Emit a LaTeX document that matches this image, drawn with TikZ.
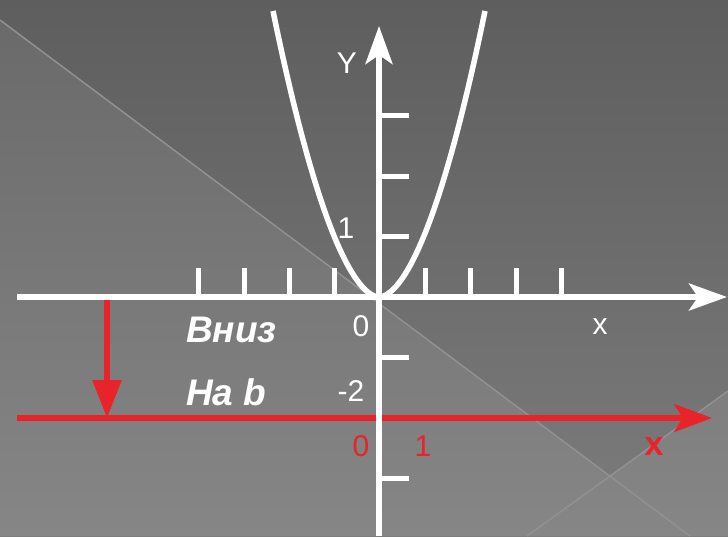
\documentclass[tikz,border=0pt]{standalone}
\usepackage{fontspec}
\setmainfont{Liberation Sans}
\usetikzlibrary{arrows.meta}
\definecolor{redc}{RGB}{232,35,42}
\definecolor{bgdt}{RGB}{94,94,94}
\definecolor{bgdb}{RGB}{124,124,124}
\definecolor{bglt}{RGB}{105,105,105}
\definecolor{bglb}{RGB}{134,134,134}
\definecolor{bgline}{RGB}{145,145,145}
\begin{document}
\begin{tikzpicture}[x=1pt,y=-1pt,
  axis/.style={draw=white,line width=5.5pt},
  tick/.style={draw=white,line width=5pt},
  redline/.style={draw=redc,line width=5.5pt},
  wlab/.style={text=white,inner sep=0pt,font=\fontsize{30}{32}\selectfont},
  rlab/.style={text=redc,inner sep=0pt,font=\fontsize{30}{32}\selectfont},
  blab/.style={text=white,inner sep=0pt,anchor=west,font=\fontsize{37}{40}\selectfont\bfseries\itshape},
  wtip/.style={-{Stealth[length=38pt,width=27pt,inset=9pt]}},
]
\useasboundingbox (0,0) rectangle (728,536);
% background
\shade[top color=bgdt,bottom color=bgdb] (0,0) rectangle (728,536);
\begin{scope}
  \clip (0,20) -- (690,536) -- (0,536) -- cycle;
  \shade[top color=bglt,bottom color=bglb] (0,0) rectangle (728,536);
\end{scope}
\begin{scope}
  \clip (527,536) -- (728,391) -- (728,536) -- cycle;
  \shade[top color=bglt,bottom color=bglb] (0,0) rectangle (728,536);
\end{scope}
\coordinate (g1a) at (0,20);
\coordinate (g1b) at (690,536);
\coordinate (g2a) at (527,536);
\coordinate (g2b) at (728,391);
\draw[bgline,line width=1.5pt] (g1a) -- (g1b);
\draw[bgline,line width=1.5pt] (g2a) -- (g2b);
% ticks
\foreach \t in {198,244,289,334,425,470,516,561}
  \draw[tick] (\t,297) -- (\t,268);
\foreach \t in {115.5,176,236.5,357.5,418,478.5}
  \draw[tick] (379,\t) -- (409,\t);
% red x axis
\coordinate (rs) at (17,418);
\coordinate (re) at (712,418);
\draw[redline,-{Stealth[length=38pt,width=28pt,inset=9pt]}] (rs) -- (re);
% white axes
\coordinate (xs) at (17,297);
\coordinate (xe) at (727,297);
\coordinate (ys) at (379,536);
\coordinate (ye) at (379,26);
\draw[axis,wtip] (xs) -- (xe);
\draw[axis,wtip] (ys) -- (ye);
% parabola
\draw[draw=white,line width=5.5pt,smooth,samples=121,domain=-106:106]
  plot ({379+\x},{297-0.0647*abs(\x)^1.8});
% shift arrow
\coordinate (ds) at (107,300);
\coordinate (de) at (107,418);
\draw[draw=redc,line width=6pt,-{Triangle[length=38pt,width=28pt]}] (ds) -- (de);
% labels
\node[wlab] (ylab) at (347,63) {Y};
\node[wlab] (one) at (346,228) {1};
\node[wlab] (zero) at (361,326) {0};
\node[wlab] (mtwo) at (351,391) {-2};
\node[wlab] (xlab) at (600,327) {x};
\node[rlab] (rzero) at (361,446) {0};
\node[rlab] (rone) at (423,446) {1};
\node[rlab,font=\fontsize{34}{36}\selectfont\bfseries] (rx) at (654,447) {x};
\node[blab] (vniz) at (186,330) {Вниз};
\node[blab] (nab) at (186,392) {На b};
\end{tikzpicture}
\end{document}
